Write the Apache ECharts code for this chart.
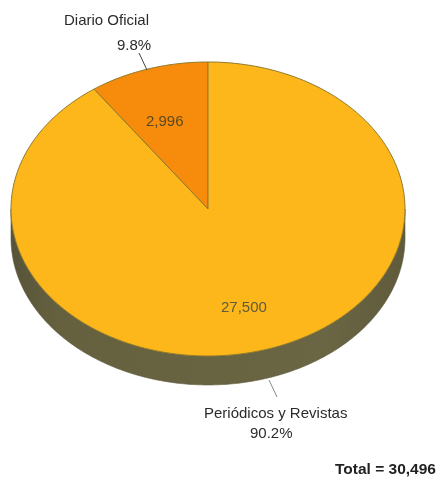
<!DOCTYPE html>
<html>
<head>
<meta charset="utf-8">
<style>html,body{margin:0;padding:0;background:#fff}#c{width:441px;height:479px}</style>
<script src="https://cdn.jsdelivr.net/npm/echarts@6/dist/echarts.min.js"></script>
</head>
<body>
<div id="c"></div>
<script>
const categories = ['Diario Oficial', 'Periódicos y Revistas'];
const values = [2996, 27500];
const valueLabels = ['2,996', '27,500'];
const percentLabels = ['9.8%', '90.2%'];
const totalLabel = 'Total = 30,496';
const sliceColors = ['#f78c0c', '#fdb71a'];
const sum = values.reduce((a, b) => a + b, 0);
const DEPTH = 0.197;
const FONT = '"Liberation Sans", Arial, sans-serif';

function rim(a, dy) { return [Math.cos(a), Math.sin(a) - (dy || 0)]; }
function arc(a0, a1, dy) {
  const n = Math.max(2, Math.ceil(Math.abs(a1 - a0) / (Math.PI / 180)));
  const pts = [];
  for (let i = 0; i <= n; i++) pts.push(rim(a0 + (a1 - a0) * i / n, dy));
  return pts;
}
function startOf(i) {
  let s = 0;
  for (let k = 0; k < i; k++) s += values[k];
  return Math.PI / 2 + s / sum * 2 * Math.PI;
}
const chart = echarts.init(document.getElementById('c'), null, { renderer: 'canvas' });
chart.setOption({
  animation: false,
  backgroundColor: '#ffffff',
  grid: { left: 11, top: 62, width: 394, height: 294, containLabel: false },
  xAxis: { type: 'value', min: -1, max: 1, show: false },
  yAxis: { type: 'value', min: -1, max: 1, show: false },
  series: [
    {
      type: 'custom', silent: true, data: [[0, 0]],
      renderItem: function (p, api) {
        const pts = arc(Math.PI, 2 * Math.PI, 0).concat(arc(2 * Math.PI, Math.PI, DEPTH)).map(q => api.coord(q));
        return {
          type: 'polygon', shape: { points: pts },
          style: {
            fill: new echarts.graphic.LinearGradient(0, 0, 1, 0, [
              { offset: 0, color: '#57533a' }, { offset: 0.12, color: '#65613f' },
              { offset: 0.8, color: '#6a6543' }, { offset: 1, color: '#5f5b3b' }
            ]),
            stroke: '#5c5a3e', lineWidth: 0.6
          }
        };
      }
    },
    {
      type: 'custom', silent: true,
      data: values.map((v, i) => [i, v]),
      renderItem: function (p, api) {
        const i = api.value(0), v = api.value(1);
        const a0 = startOf(i), a1 = a0 + v / sum * 2 * Math.PI;
        const pts = [[0, 0]].concat(arc(a0, a1, 0)).map(q => api.coord(q));
        return {
          type: 'polygon', shape: { points: pts },
          style: { fill: sliceColors[i], stroke: '#8f7a2c', lineWidth: 1 }
        };
      }
    }
  ],
  graphic: [
    { type: 'text', z: 100, left: 64, top: 13, style: { text: categories[0], font: '15px ' + FONT, fill: '#2b2b2b' } },
    { type: 'text', z: 100, left: 117, top: 38, style: { text: percentLabels[0], font: '15px ' + FONT, fill: '#2b2b2b' } },
    { type: 'line', z: 100, shape: { x1: 139, y1: 53, x2: 147, y2: 70 }, style: { stroke: '#444', lineWidth: 1 } },
    { type: 'text', z: 100, left: 146, top: 114, style: { text: valueLabels[0], font: '15px ' + FONT, fill: '#5a4a22' } },
    { type: 'text', z: 100, left: 221, top: 300, style: { text: valueLabels[1], font: '15px ' + FONT, fill: '#5e5a3a' } },
    { type: 'line', z: 100, shape: { x1: 269, y1: 380, x2: 277, y2: 397 }, style: { stroke: '#8a8a80', lineWidth: 1 } },
    { type: 'text', z: 100, left: 204, top: 406, style: { text: categories[1], font: '15px ' + FONT, fill: '#2b2b2b' } },
    { type: 'text', z: 100, left: 250, top: 426, style: { text: percentLabels[1], font: '15px ' + FONT, fill: '#2b2b2b' } },
    { type: 'text', z: 100, left: 335, top: 462, style: { text: totalLabel, font: 'bold 15.5px ' + FONT, fill: '#222' } }
  ]
});
</script>
</body>
</html>
